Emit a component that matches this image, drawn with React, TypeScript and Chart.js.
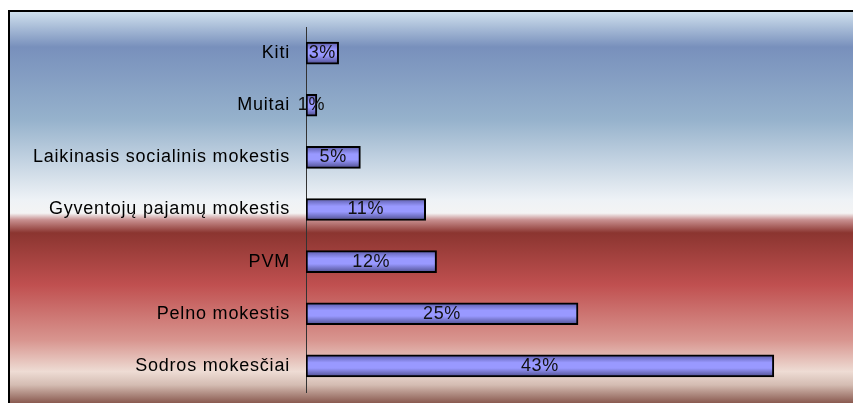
import React, { useEffect, useRef } from "react";
import { Chart, registerables } from "chart.js";

Chart.register(...registerables);

const categories = [
  "Kiti",
  "Muitai",
  "Laikinasis socialinis mokestis",
  "Gyventojų pajamų mokestis",
  "PVM",
  "Pelno mokestis",
  "Sodros mokesčiai",
];
const shares = [3, 1, 5, 11, 12, 25, 43];
const valueLabels = ["3%", "1%", "5%", "11%", "12%", "25%", "43%"];

const BAR_H = 22;

const bgPlugin = {
  id: "bgPlugin",
  beforeDraw(chart: any) {
    const { ctx, width, height } = chart;
    ctx.save();
    const g = ctx.createLinearGradient(0, 10, 0, 403);
    const stops: [number, string][] = [
      [0.0, "#d4e4f0"],
      [0.094, "#7890bc"],
      [0.28, "#96b2cc"],
      [0.483, "#eef2f6"],
      [0.517, "#f4f4f4"],
      [0.534, "#c89090"],
      [0.567, "#8b3530"],
      [0.7, "#c05050"],
      [0.84, "#d8958f"],
      [0.92, "#eedcd4"],
      [0.954, "#d4bcb2"],
      [1.0, "#8a5a50"],
    ];
    stops.forEach(([o, c]) => g.addColorStop(o, c));
    ctx.fillStyle = g;
    ctx.fillRect(8, 10, width - 8, height - 10);
    ctx.strokeStyle = "#000";
    ctx.lineWidth = 2;
    ctx.beginPath();
    ctx.moveTo(9, height);
    ctx.lineTo(9, 11);
    ctx.lineTo(width, 11);
    ctx.stroke();
    ctx.restore();
    (ctx as any).letterSpacing = "0.8px";
  },
  afterDraw(chart: any) {
    (chart.ctx as any).letterSpacing = "0px";
  },
};

const valueLabelPlugin = {
  id: "valueLabelPlugin",
  afterDatasetsDraw(chart: any) {
    const { ctx } = chart;
    const meta = chart.getDatasetMeta(0);
    ctx.save();
    (ctx as any).letterSpacing = "0.6px";
    ctx.font = "18px 'Liberation Sans', Arial, sans-serif";
    ctx.fillStyle = "#111";
    ctx.textAlign = "center";
    ctx.textBaseline = "middle";
    meta.data.forEach((el: any, i: number) => {
      const cx = (el.x + el.base) / 2;
      ctx.fillText(valueLabels[i], cx, el.y);
    });
    ctx.restore();
  },
};

export default function App() {
  const ref = useRef<HTMLCanvasElement | null>(null);
  useEffect(() => {
    if (!ref.current) return;
    const chart = new Chart(ref.current, {
      type: "bar",
      data: {
        labels: categories,
        datasets: [
          {
            data: shares,
            barThickness: BAR_H,
            borderColor: "#000",
            borderWidth: 2,
            borderSkipped: false,
            backgroundColor: (c: any) => {
              const ch = c.chart;
              const ys = ch.scales && ch.scales.y;
              if (!ys || c.dataIndex === undefined) return "#9999ff";
              const y = ys.getPixelForValue(c.dataIndex);
              if (!Number.isFinite(y)) return "#9999ff";
              const g = ch.ctx.createLinearGradient(0, y - BAR_H / 2, 0, y + BAR_H / 2);
              g.addColorStop(0, "#5a5aa8");
              g.addColorStop(0.35, "#9999ff");
              g.addColorStop(0.6, "#9999ff");
              g.addColorStop(1, "#4c4c8c");
              return g;
            },
          },
        ],
      },
      options: {
        indexAxis: "y",
        responsive: false,
        animation: false,
        events: [],
        layout: { padding: { top: 27, bottom: 11, right: 3, left: 8 } },
        plugins: {
          legend: { display: false },
          tooltip: { enabled: false },
          title: { display: false },
        },
        scales: {
          x: { display: false, min: 0, max: 50 },
          y: {
            grid: { display: false, drawTicks: false },
            border: { display: true, color: "#333", width: 1 },
            ticks: {
              padding: 16,
              color: "#000",
              font: { family: "'Liberation Sans', Arial, sans-serif", size: 18 },
            },
            afterFit: (s: any) => {
              s.width = 298;
              s.paddingTop = 0;
              s.paddingBottom = 0;
            },
          },
        },
      },
      plugins: [bgPlugin, valueLabelPlugin],
    } as any);
    return () => chart.destroy();
  }, []);
  return (
    <canvas
      ref={ref}
      width={853}
      height={403}
      style={{ position: "fixed", left: 0, top: 0, width: 853, height: 403 }}
    />
  );
}
